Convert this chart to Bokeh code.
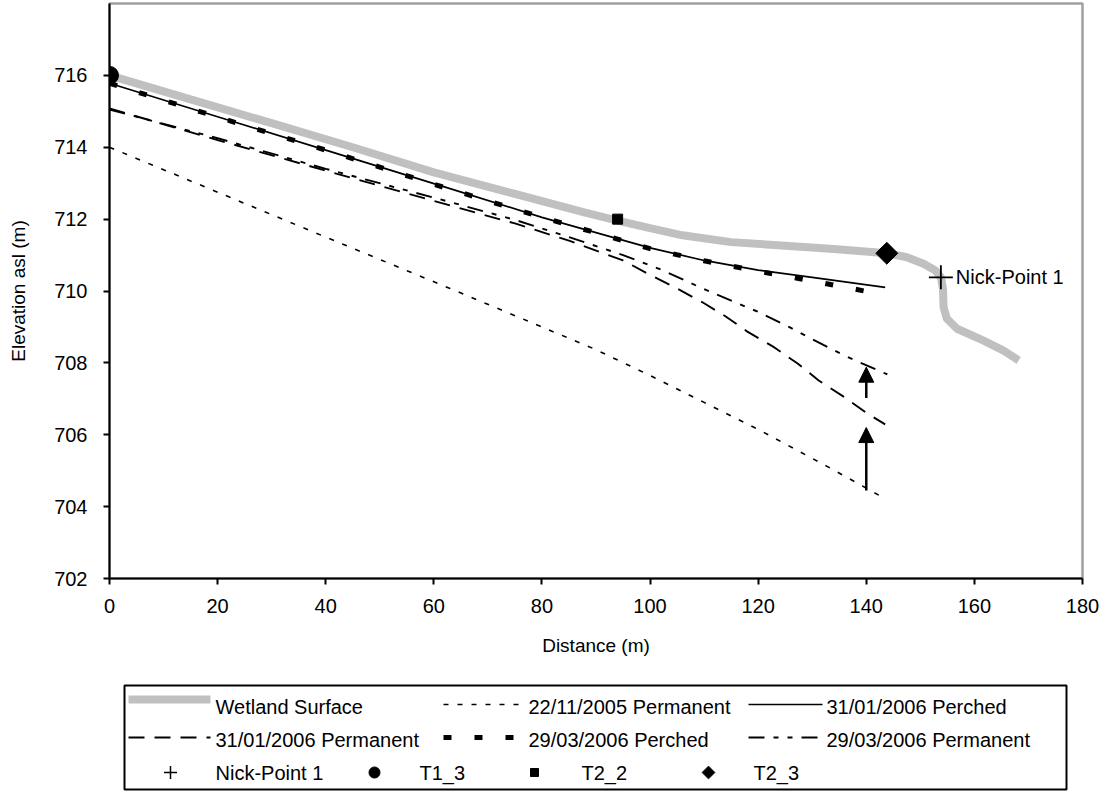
from bokeh.plotting import figure
from bokeh.models import Range1d, FixedTicker, Arrow, NormalHead
from bokeh.layouts import column
from bokeh.core.properties import value
from bokeh.embed import file_html
from bokeh.resources import INLINE

FONT = "Liberation Sans"

# ---- data -------------------------------------------------------------
surface_x = [0, 15, 30, 45, 60, 75, 88, 94, 100, 106, 115, 125, 134, 143.8,
             147.5, 150.6, 152.8, 153.8, 154.2, 154.3, 154.9, 156.8, 161.7, 165.4, 168.2]
surface_y = [716.0, 715.33, 714.67, 714.0, 713.3, 712.7, 712.18, 711.96, 711.75, 711.55,
             711.36, 711.26, 711.17, 711.05, 710.94, 710.76, 710.57, 710.38, 710.06,
             709.55, 709.23, 708.95, 708.62, 708.34, 708.07]

perm_2211_x = [0, 20, 40, 63, 89.5, 100, 110, 120, 133, 143.5]
perm_2211_y = [714.0, 712.75, 711.5, 710.07, 708.4, 707.65, 706.9, 706.15, 705.1, 704.22]

perch_3101_x = [0, 20, 40, 63, 80, 100, 110, 120, 130, 143.5]
perch_3101_y = [715.78, 714.85, 713.92, 712.85, 712.05, 711.2, 710.85, 710.58, 710.38, 710.1]

perm_3101_x = [0, 20, 40, 63, 75, 85, 95, 100, 105, 110, 114, 118, 123, 127.3, 131.2,
               135.8, 140.2, 143.5]
perm_3101_y = [715.08, 714.2, 713.35, 712.38, 711.88, 711.4, 710.85, 710.45, 710.07, 709.66,
               709.29, 708.87, 708.43, 707.98, 707.51, 707.06, 706.59, 706.29]

perch_2903_x = [0, 20, 40, 60, 80, 93, 100, 110, 120, 130, 140]
perch_2903_y = [715.78, 714.84, 713.92, 712.97, 712.05, 711.49, 711.18, 710.84, 710.55,
                710.28, 709.99]

perm_2903_x = [0, 20, 40, 60.7, 75, 85, 95, 102, 110, 115.8, 120, 125.7, 130, 135.6,
               139.3, 143.9]
perm_2903_y = [715.05, 714.25, 713.4, 712.57, 711.98, 711.5, 711.0, 710.6, 710.05, 709.68,
               709.42, 709.0, 708.66, 708.23, 707.98, 707.68]

nick_x, nick_y = [153.8], [710.38]
t1_3_x, t1_3_y = [0], [716.0]
t2_2_x, t2_2_y = [94], [712.0]
t2_3_x, t2_3_y = [143.8], [711.05]

# rise of the water table at the end of the transect
arrow_x = [140, 140]
arrow_from = [704.45, 707.02]
arrow_to = [706.2, 707.88]

x_ticks = [0, 20, 40, 60, 80, 100, 120, 140, 160, 180]
y_ticks = [702, 704, 706, 708, 710, 712, 714, 716]

# ---- series styles ----------------------------------------------------
GREY = "#c0c0c0"
styles = {
    "surface": dict(line_color=GREY, line_width=8),
    "perm_2211": dict(line_color="black", line_width=1.6, line_dash="5 9"),
    "perch_3101": dict(line_color="black", line_width=1.7),
    "perm_3101": dict(line_color="black", line_width=1.9, line_dash="16 10"),
    "perch_2903": dict(line_color="black", line_width=5, line_dash="8 23"),
    "perm_2903": dict(line_color="black", line_width=1.9, line_dash="16 9 5 9 5 9"),
}

# frame placement shared by the chart and the legend panel
BORDER_L, BORDER_R = 109, 19
PAGE_W = 1101

# ---- main chart -------------------------------------------------------
p = figure(width=PAGE_W, height=665, x_range=Range1d(0, 180), y_range=Range1d(702, 718),
           output_backend="svg", toolbar_location=None,
           min_border_left=BORDER_L, min_border_right=BORDER_R, min_border_top=3,
           min_border_bottom=87)
p.background_fill_color = "white"
p.border_fill_color = "white"
p.outline_line_color = "#a0a0a0"
p.outline_line_width = 2.5
p.xgrid.visible = False
p.ygrid.visible = False

p.line(surface_x, surface_y, **styles["surface"])
p.line(perm_2211_x, perm_2211_y, **styles["perm_2211"])
p.line(perm_3101_x, perm_3101_y, **styles["perm_3101"])
p.line(perm_2903_x, perm_2903_y, **styles["perm_2903"])
p.line(perch_3101_x, perch_3101_y, **styles["perch_3101"])
p.line(perch_2903_x, perch_2903_y, **styles["perch_2903"])

for xs, y0, y1 in zip(arrow_x, arrow_from, arrow_to):
    p.add_layout(Arrow(end=NormalHead(size=15, fill_color="black", line_color="black"),
                       x_start=xs, y_start=y0, x_end=xs, y_end=y1,
                       line_color="black", line_width=2.5))

p.scatter(t1_3_x, t1_3_y, marker="circle", size=18, color="black")
p.scatter(t2_2_x, t2_2_y, marker="square", size=10, color="black")
p.scatter(t2_3_x, t2_3_y, marker="square", size=15.5, angle=0.785398, color="black")
p.scatter(nick_x, nick_y, marker="cross", size=24, line_color="black", line_width=1.8)
p.text(nick_x, nick_y, text=["Nick-Point 1"], x_offset=15, text_baseline="middle",
       text_font=value(FONT), text_font_size="20px", text_color="black")

p.xaxis.ticker = FixedTicker(ticks=x_ticks)
p.yaxis.ticker = FixedTicker(ticks=y_ticks)
p.xaxis.axis_label = "Distance (m)"
p.yaxis.axis_label = "Elevation asl (m)"
for ax in (p.xaxis, p.yaxis):
    ax.axis_line_color = "black"
    ax.axis_line_width = 2
    ax.major_tick_line_color = "black"
    ax.major_tick_line_width = 2
    ax.major_tick_out = 6
    ax.major_tick_in = 0
    ax.minor_tick_line_color = None
    ax.major_label_text_font = FONT
    ax.major_label_text_font_size = "20px"
    ax.major_label_text_color = "black"
    ax.axis_label_text_font = FONT
    ax.axis_label_text_font_size = "19px"
    ax.axis_label_text_font_style = "normal"
    ax.axis_label_text_color = "black"
p.xaxis.major_label_standoff = 14
p.xaxis.axis_label_standoff = 19
p.yaxis.major_label_standoff = 16
p.yaxis.axis_label_standoff = 22

# ---- legend panel (data units = page pixels) --------------------------
leg = figure(width=PAGE_W, height=128,
             x_range=Range1d(BORDER_L, PAGE_W - BORDER_R), y_range=Range1d(128, 0),
             output_backend="svg", toolbar_location=None,
             min_border_left=BORDER_L, min_border_right=BORDER_R,
             min_border_top=0, min_border_bottom=0)
leg.axis.visible = False
leg.xgrid.visible = False
leg.ygrid.visible = False
leg.outline_line_color = None
leg.background_fill_color = "white"
leg.border_fill_color = "white"

leg.quad(left=124, right=1066, top=20, bottom=124, fill_color=None,
         line_color="black", line_width=2)

rows = [41, 74, 107]
line_entries = [
    ("surface", "Wetland Surface", 128, 210, 215, rows[0], -7),
    ("perm_2211", "22/11/2005 Permanent", 443, 524, 528, rows[0], -2),
    ("perch_3101", "31/01/2006 Perched", 748, 822, 826, rows[0], -2),
    ("perm_3101", "31/01/2006 Permanent", 128, 210, 215, rows[1], -2),
    ("perch_2903", "29/03/2006 Perched", 443, 524, 528, rows[1], -2),
    ("perm_2903", "29/03/2006 Permanent", 748, 822, 826, rows[1], -2),
]
for key, label, gx0, gx1, tx, ry, dy in line_entries:
    leg.line([gx0, gx1], [ry + dy, ry + dy], **styles[key])
    leg.text([tx], [ry], text=[label], text_baseline="middle", text_font=value(FONT),
             text_font_size="20px", text_color="black")

r3 = rows[2]
leg.scatter([170], [r3], marker="cross", size=13, line_color="black", line_width=1.5)
leg.text([215], [r3], text=["Nick-Point 1"], text_baseline="middle", text_font=value(FONT),
         text_font_size="20px")
leg.scatter([374], [r3], marker="circle", size=11, color="black")
leg.text([419], [r3], text=["T1_3"], text_baseline="middle", text_font=value(FONT),
         text_font_size="20px")
leg.scatter([534], [r3], marker="square", size=8, color="black")
leg.text([581], [r3], text=["T2_2"], text_baseline="middle", text_font=value(FONT),
         text_font_size="20px")
leg.scatter([708], [r3], marker="square", size=9, angle=0.785398, color="black")
leg.text([753], [r3], text=["T2_3"], text_baseline="middle", text_font=value(FONT),
         text_font_size="20px")

layout = column(p, leg, spacing=0)
open("out.html", "w").write(file_html(layout, INLINE))
